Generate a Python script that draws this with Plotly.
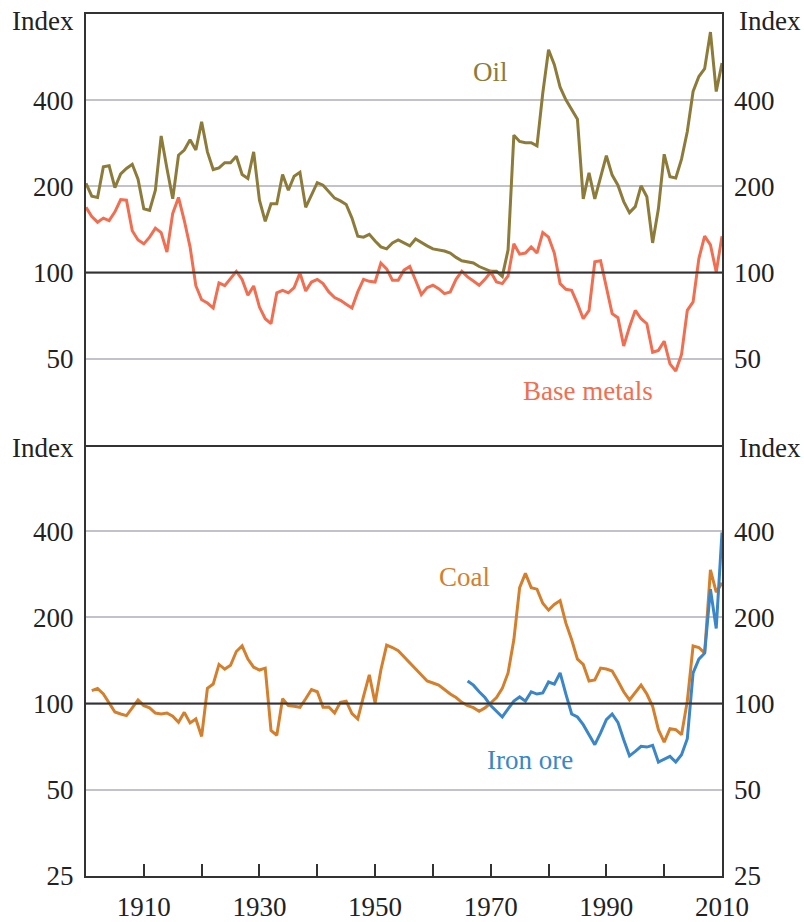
import math
import plotly.graph_objects as go

# ---------------- data ----------------
years = list(range(1900, 2011))

oil = [205, 185, 183, 234, 236, 198, 221, 231, 239, 212,
       167, 165, 194, 300, 231, 181, 257, 268, 291, 268,
       336, 264, 229, 232, 242, 242, 255, 220, 213, 264,
       179, 151, 174, 174, 220, 194, 217, 224, 169, 187,
       206, 202, 192, 182, 178, 173, 155, 134, 133, 136,
       129, 123, 121, 127, 130, 127, 124, 131, 127, 124,
       121, 120, 119, 117, 113, 110, 109, 108, 105, 103,
       101, 101, 97, 120, 302, 287, 284, 284, 277, 423,
       600, 532, 444, 401, 370, 343, 181, 223, 181, 216,
       256, 219, 202, 177, 162, 170, 201, 184, 127, 167,
       259, 216, 214, 249, 311, 429, 484, 515, 692, 429, 539]

base_metals = [169, 157, 150, 155, 152, 163, 180, 179, 140, 130,
               126, 133, 143, 138, 118, 161, 183, 152, 123, 90,
               80.4, 78.3, 75.2, 92, 90, 95.8, 101, 94.7, 83.3, 89.8,
               75.8, 69, 66.3, 85, 86.7, 85, 88.6, 99.7, 86.3, 92.7,
               94.7, 91.5, 85.6, 81.8, 80, 77.5, 75.2, 85.6, 94.7, 93.2,
               92.7, 108, 103, 94, 94, 102, 105, 94, 83.8, 88.6,
               90.3, 87.9, 84.4, 85.6, 94.7, 101, 96.6, 93.5, 90.3, 94.7,
               100.5, 92.7, 91.5, 97.3, 126, 116, 117, 123, 117, 138,
               133, 117, 91.5, 87.4, 86.7, 77.9, 69, 73.8, 109, 110,
               89.8, 71.9, 69.6, 55.4, 64.6, 73.8, 69, 66.3, 52.7, 53.5,
               57.6, 48, 45.3, 51.8, 73.8, 79, 112, 134, 125, 100.5, 134]

coal_years = list(range(1901, 2011))
coal = [111, 113, 108, 101, 93.5, 92, 90.8, 96.6, 103,
        98.4, 96.6, 92.7, 92, 92.7, 90.3, 86, 93.2, 85.6, 88.4,
        76.8, 113, 117, 137, 132, 136, 152, 159, 143, 134,
        131, 133, 80.6, 77.5, 104, 98.4, 97.9, 97.1, 104, 112,
        110, 97.1, 97.3, 92.7, 101, 102, 92.3, 88.4, 106, 126,
        100.5, 131, 160, 157, 153, 146, 139, 132, 126, 120,
        118, 116, 112, 108, 105, 101, 98.4, 96.8, 94, 96.6,
        100.5, 105, 113, 128, 167, 254, 285, 254, 251, 224,
        212, 222, 229, 191, 167, 143, 137, 120, 121, 133,
        132, 130, 120, 110, 103, 109, 116, 108, 97.9, 81.1,
        73.4, 81.8, 81.1, 77.9, 102, 159, 157, 150, 293, 245, 264]

iron_years = list(range(1966, 2011))
iron_ore = [120, 116, 110, 105, 98.4, 94, 89.8, 95.8, 102, 105.5,
            102, 110, 108, 109, 119, 117, 128, 108, 92, 89.8,
            84.4, 77.9, 71.9, 79, 87.9, 92, 86, 74.8, 65.7, 68.1,
            70.9, 70.5, 71.5, 62.5, 64, 65.4, 62.5, 66.3, 75.4, 128,
            143, 150, 251, 183, 396]

top_ticks = [50, 100, 200, 400]
bottom_ticks = [25, 50, 100, 200, 400]
x_tickvals = list(range(1910, 2011, 10))
x_ticktext = [str(v) if (v - 1910) % 20 == 0 else "" for v in x_tickvals]

# ---------------- style ----------------
FONT = "Liberation Serif"
FS = 27
C_OIL = "#8d7b3a"
C_BASE = "#f26e50"
C_COAL = "#d47f2c"
C_IRON = "#3a86c8"
AX = "#333333"
GRID = "#c2c2ca"
YR = [math.log10(25), math.log10(800)]
TXT = "#222222"

fig = go.Figure()

def line(x, y, color, xa, ya):
    fig.add_trace(go.Scatter(x=x, y=y, mode="lines", xaxis=xa, yaxis=ya,
                             line=dict(color=color, width=3),
                             showlegend=False, hoverinfo="skip"))

line(years, oil, C_OIL, "x", "y")
line(years, base_metals, C_BASE, "x", "y")
line(coal_years, coal, C_COAL, "x2", "y2")
line(iron_years, iron_ore, C_IRON, "x2", "y2")

# invisible carriers so the right-hand mirror axes are drawn
for ya in ("y3", "y4"):
    fig.add_trace(go.Scatter(x=[None], y=[None], mode="lines", xaxis="x" if ya == "y3" else "x2",
                             yaxis=ya, showlegend=False, hoverinfo="skip"))

common_y = dict(type="log", range=YR, showline=True, linecolor=AX, linewidth=2,
                ticks="", showgrid=True, gridcolor=GRID, gridwidth=1.5,
                zeroline=False, automargin=False,
                tickfont=dict(family=FONT, size=FS, color=TXT))
right_y = dict(type="log", range=YR, side="right", showline=False, showgrid=False,
               ticks="", zeroline=False, ticklabelstandoff=11, automargin=False,
               tickfont=dict(family=FONT, size=FS, color=TXT))

fig.update_layout(
    width=804, height=922,
    margin=dict(l=86, r=82, t=14, b=46),
    paper_bgcolor="white", plot_bgcolor="white",
    font=dict(family=FONT, size=FS, color=TXT),
    xaxis=dict(domain=[0, 1], anchor="y", range=[1900, 2010], showticklabels=False,
               ticks="", showline=True, mirror=True, linecolor=AX, linewidth=2,
               showgrid=False, zeroline=False, automargin=False),
    yaxis=dict(domain=[0.5, 1], anchor="x", tickvals=top_ticks,
               ticktext=[str(v) for v in top_ticks], mirror=True,
               ticklabelstandoff=5, **common_y),
    yaxis3=dict(overlaying="y", anchor="x", tickvals=top_ticks,
                ticktext=[str(v) for v in top_ticks], **right_y),
    xaxis2=dict(domain=[0, 1], anchor="y2", range=[1900, 2010], tickvals=x_tickvals,
                ticktext=x_ticktext, ticks="inside", ticklen=12, tickwidth=1.5,
                tickcolor=AX, showline=True, mirror=False, linecolor=AX, linewidth=2,
                showgrid=False, zeroline=False, ticklabelstandoff=6, automargin=False,
                tickfont=dict(family=FONT, size=FS, color=TXT)),
    yaxis2=dict(domain=[0, 0.5], anchor="x2", tickvals=bottom_ticks,
                ticktext=[str(v) for v in bottom_ticks], mirror=True,
                ticklabelstandoff=5, **common_y),
    yaxis4=dict(overlaying="y2", anchor="x2", tickvals=bottom_ticks,
                ticktext=[str(v) for v in bottom_ticks], **right_y),
)

# reference lines at 100
for xa, ya in (("x", "y"), ("x2", "y2")):
    fig.add_shape(type="line", xref=f"{xa} domain", yref=ya, x0=0, x1=1, y0=100, y1=100,
                  line=dict(color=AX, width=2), layer="above")

# "Index" unit labels
for x, xanchor, y in ((-0.016, "right", 0.992), (1.024, "left", 0.992),
                      (-0.016, "right", 0.4965), (1.024, "left", 0.4965)):
    fig.add_annotation(text="Index", xref="paper", yref="paper", x=x, y=y,
                       xanchor=xanchor, yanchor="middle", showarrow=False,
                       font=dict(family=FONT, size=FS, color=TXT))

# series labels
labels = [("Oil", 1970, 500, "x", "y", C_OIL),
          ("Base metals", 1986.8, 38.7, "x", "y", C_BASE),
          ("Coal", 1965.5, 276, "x2", "y2", C_COAL),
          ("Iron ore", 1976.8, 63.7, "x2", "y2", C_IRON)]
for txt, lx, ly, xa, ya, col in labels:
    fig.add_annotation(text=txt, x=lx, y=math.log10(ly), xref=xa, yref=ya,
                       showarrow=False, xanchor="center", yanchor="middle",
                       font=dict(family=FONT, size=FS, color=col))

fig.write_html("out.html", config={"displayModeBar": False},
               post_script="document.body.style.margin='0';")
